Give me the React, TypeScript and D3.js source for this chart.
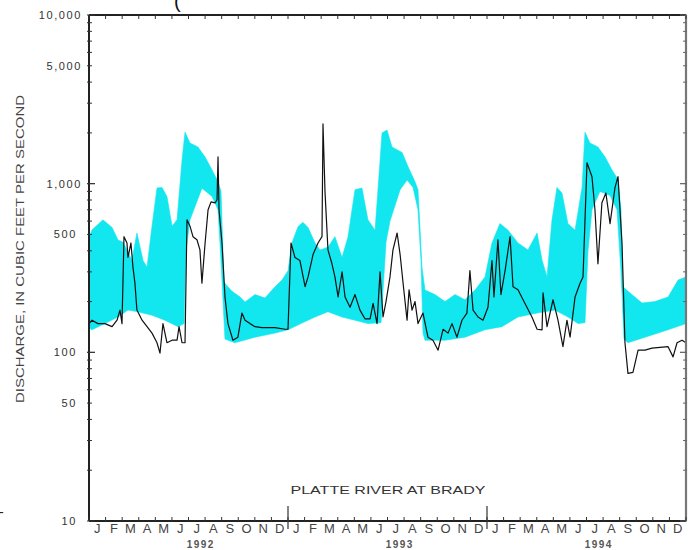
import React from "react";
import * as d3 from "d3";

// time in months since 1 Jan 1992 (0..36)
const bandTopT = [0, 0.18, 0.84, 1.39, 1.75, 2.05, 2.59, 2.89, 3.26, 3.5, 3.8, 4.1, 4.4, 4.7, 5.01, 5.31, 5.61, 5.79, 6.09, 6.57, 7.0, 7.42, 7.78, 7.96, 8.14, 8.62, 9.11, 9.41, 10.01, 10.61, 11.22, 11.64, 12.0, 12.24, 12.6, 12.9, 13.21, 13.63, 13.93, 14.41, 14.83, 15.26, 15.62, 16.04, 16.46, 16.82, 17.25, 17.67, 17.97, 18.27, 18.88, 19.24, 19.66, 19.84, 20.08, 20.26, 20.86, 21.47, 22.07, 22.67, 23.28, 23.88, 24.3, 24.78, 25.27, 25.87, 26.47, 27.02, 27.32, 27.62, 27.92, 28.22, 28.52, 28.88, 29.31, 29.73, 29.91, 30.21, 30.69, 31.12, 31.54, 31.9, 32.08, 32.2, 32.5, 33.35, 34.13, 34.92, 35.52, 36.0];
const bandTopV = [480, 531, 610, 550, 463, 450, 352, 510, 350, 320, 560, 942, 950, 840, 560, 610, 1380, 2020, 1740, 1650, 1440, 1205, 1025, 900, 260, 230, 213, 199, 220, 210, 245, 268, 305, 445, 555, 590, 550, 445, 405, 420, 485, 365, 485, 920, 942, 610, 530, 2000, 2080, 1650, 1530, 1260, 1025, 920, 320, 234, 220, 200, 220, 205, 234, 280, 445, 580, 530, 445, 405, 510, 352, 280, 610, 950, 880, 580, 530, 950, 2020, 1740, 1650, 1440, 1205, 1060, 700, 245, 230, 196, 200, 213, 268, 280];

const bandLowT = [0, 0.18, 0.96, 1.75, 2.35, 2.95, 3.8, 4.58, 5.37, 5.73, 5.85, 6.09, 6.81, 7.42, 7.78, 7.96, 8.2, 8.8, 10.01, 11.22, 12.0, 12.84, 13.63, 14.41, 15.26, 16.04, 16.82, 17.61, 17.91, 18.15, 18.76, 19.18, 19.54, 19.84, 20.02, 20.14, 20.26, 21.47, 22.67, 23.88, 24.9, 25.87, 27.02, 28.1, 28.88, 29.49, 29.91, 30.09, 30.33, 30.81, 31.42, 31.84, 32.08, 32.26, 32.5, 33.53, 34.92, 36.0];
const bandLowV = [140, 136, 148, 162, 178, 174, 166, 155, 142, 148, 400, 610, 940, 840, 700, 350, 120, 114, 123, 130, 136, 149, 162, 174, 162, 155, 148, 150, 450, 600, 920, 1050, 950, 700, 350, 130, 118, 118, 123, 136, 142, 162, 171, 178, 162, 148, 150, 400, 700, 900, 850, 700, 300, 120, 114, 123, 136, 148];

const flowT = [0, 0.18, 0.54, 0.96, 1.39, 1.69, 1.87, 1.99, 2.11, 2.29, 2.35, 2.53, 2.65, 2.77, 2.89, 3.2, 3.5, 3.8, 4.1, 4.28, 4.46, 4.7, 5.01, 5.31, 5.43, 5.61, 5.79, 5.91, 6.09, 6.27, 6.51, 6.69, 6.81, 7.0, 7.18, 7.36, 7.6, 7.72, 7.78, 7.84, 8.02, 8.2, 8.38, 8.68, 8.98, 9.22, 9.41, 9.71, 10.01, 10.43, 10.79, 11.22, 11.82, 12.0, 12.18, 12.42, 12.72, 13.03, 13.21, 13.51, 13.81, 14.05, 14.11, 14.23, 14.41, 14.65, 14.83, 15.02, 15.26, 15.44, 15.74, 16.04, 16.34, 16.64, 16.95, 17.13, 17.37, 17.55, 17.73, 17.91, 18.15, 18.33, 18.58, 18.76, 18.94, 19.18, 19.3, 19.48, 19.66, 19.84, 20.14, 20.44, 20.74, 21.05, 21.35, 21.65, 21.89, 22.19, 22.49, 22.79, 22.97, 23.16, 23.46, 23.76, 24.06, 24.3, 24.42, 24.66, 24.84, 25.09, 25.39, 25.57, 25.87, 26.29, 26.71, 27.02, 27.32, 27.38, 27.62, 27.98, 28.28, 28.58, 28.82, 29.01, 29.31, 29.61, 29.79, 30.03, 30.33, 30.51, 30.69, 30.93, 31.17, 31.42, 31.72, 31.9, 32.14, 32.32, 32.5, 32.8, 33.11, 33.53, 33.95, 34.92, 35.22, 35.46, 35.76, 36.0];
const flowV = [148, 155, 148, 148, 142, 155, 178, 148, 485, 445, 365, 445, 320, 257, 178, 155, 142, 130, 114, 99, 148, 114, 118, 118, 142, 114, 114, 610, 560, 485, 465, 405, 257, 445, 700, 780, 770, 800, 1440, 700, 445, 213, 148, 118, 123, 171, 155, 148, 142, 140, 140, 140, 137, 137, 445, 365, 350, 245, 280, 380, 445, 485, 2260, 900, 405, 335, 280, 213, 300, 213, 185, 220, 178, 158, 158, 195, 148, 300, 162, 200, 280, 405, 510, 380, 257, 155, 235, 178, 200, 148, 171, 123, 118, 103, 137, 130, 148, 123, 155, 171, 305, 178, 162, 155, 185, 350, 213, 465, 220, 305, 485, 245, 235, 195, 162, 137, 136, 225, 142, 205, 155, 108, 155, 123, 213, 257, 280, 1330, 1100, 700, 335, 770, 880, 580, 950, 1100, 445, 114, 75, 76, 103, 103, 106, 108, 94, 114, 118, 114];

const monthLetters = ["J", "F", "M", "A", "M", "J", "J", "A", "S", "O", "N", "D"];
const years = ["1992", "1993", "1994"];
const yTickValues = [10, 50, 100, 500, 1000, 5000, 10000];
const yTickLabels = ["10", "50", "100", "500", "1,000", "5,000", "10,000"];

const W = 696;
const H = 550;
const L = 89, R = 686, T = 15, B = 521;

export default function App() {
  const x = d3.scaleLinear().domain([0, 36]).range([L, R]);
  const y = d3.scaleLog().domain([10, 10000]).range([B, T]);

  const topPts = bandTopT.map((t, i) => [x(t), y(bandTopV[i])] as [number, number]);
  const lowPts = bandLowT.map((t, i) => [x(t), y(bandLowV[i])] as [number, number]).reverse();
  const bandPath = d3.line()([...topPts, ...lowPts]) + "Z";

  const flowPath = d3
    .line<number>()
    .x((_, i) => x(flowT[i]))
    .y((v) => y(v))(flowV) || "";

  const months = d3.range(0, 37);
  const minor: number[] = [];
  [10, 100, 1000].forEach((d) => {
    for (let k = 1; k <= 10; k++) minor.push(d * k);
  });
  const majors = [10, 100, 1000, 10000];

  const font = "'Liberation Sans', Arial, sans-serif";

  return (
    <svg
      width={W}
      height={H}
      style={{ position: "absolute", left: 0, top: 0, background: "#fff" }}
    >
      <rect x={0} y={0} width={W} height={H} fill="#fff" />
      {/* stray marks from the source page */}
      <text x={174} y={8} fontSize={20} fontFamily={font} fill="#111">(</text>
      <text x={-1} y={517} fontSize={14} fontFamily={font} fill="#222">-</text>

      <path d={bandPath} fill="#12e6ee" stroke="#12e6ee" strokeWidth={0.6} />
      <path d={flowPath} fill="none" stroke="#111" strokeWidth={1.2} strokeLinejoin="round" />

      {/* frame */}
      <line x1={L} x2={R} y1={T} y2={T} stroke="#222" strokeWidth={2.2} />
      <line x1={R} x2={R} y1={T} y2={B} stroke="#777" strokeWidth={2.2} />
      <line x1={L} x2={R} y1={B} y2={B} stroke="#222" strokeWidth={2} />
      <line x1={L} x2={L} y1={T} y2={B} stroke="#222" strokeWidth={2} />

      {/* month ticks */}
      {months.map((m) => (
        <g key={"mt" + m}>
          <line x1={x(m)} x2={x(m)} y1={B} y2={B - 4} stroke="#333" strokeWidth={1} />
          <line x1={x(m)} x2={x(m)} y1={T} y2={T + 4} stroke="#333" strokeWidth={1} />
        </g>
      ))}
      {[12, 24].map((m) => (
        <line key={"ys" + m} x1={x(m)} x2={x(m)} y1={506} y2={529} stroke="#333" strokeWidth={1.2} />
      ))}

      {/* y ticks */}
      {minor.map((v, i) => {
        const isMajor = majors.includes(v);
        const len = isMajor ? 6 : 3;
        return (
          <g key={"yt" + i}>
            <line x1={L - 2} x2={L + len} y1={y(v)} y2={y(v)} stroke="#333" strokeWidth={1} />
            <line x1={R - len} x2={R + 1} y1={y(v)} y2={y(v)} stroke="#666" strokeWidth={1} />
          </g>
        );
      })}

      {/* y labels */}
      {yTickValues.map((v, i) => (
        <text
          key={"yl" + v}
          x={v >= 1000 ? 82 : 77}
          y={y(v) + 4}
          textAnchor="end"
          fontSize={11}
          fontFamily={font}
          letterSpacing={1.6}
          fill="#333"
        >
          {yTickLabels[i]}
        </text>
      ))}

      {/* month labels */}
      {months.slice(0, 36).map((m) => (
        <text
          key={"ml" + m}
          x={x(m + 0.5)}
          y={533}
          textAnchor="middle"
          fontSize={13}
          fontFamily={font}
          fill="#444"
        >
          {monthLetters[m % 12]}
        </text>
      ))}
      {years.map((yr, i) => (
        <text
          key={yr}
          x={x(i * 12 + 6.5) + 4}
          y={548}
          textAnchor="middle"
          fontSize={10}
          fontWeight="bold"
          letterSpacing={1.5}
          fontFamily={font}
          fill="#555"
        >
          {yr}
        </text>
      ))}

      <text
        x={388}
        y={494}
        textAnchor="middle"
        fontSize={11}
        fontFamily={font}
        fill="#333"
        textLength={195}
        lengthAdjust="spacingAndGlyphs"
      >
        PLATTE RIVER AT BRADY
      </text>

      <text
        transform={`translate(24, 249) rotate(-90)`}
        textAnchor="middle"
        fontSize={10}
        fontFamily={font}
        fill="#444"
        textLength={308}
        lengthAdjust="spacingAndGlyphs"
      >
        DISCHARGE, IN CUBIC FEET PER SECOND
      </text>
    </svg>
  );
}
